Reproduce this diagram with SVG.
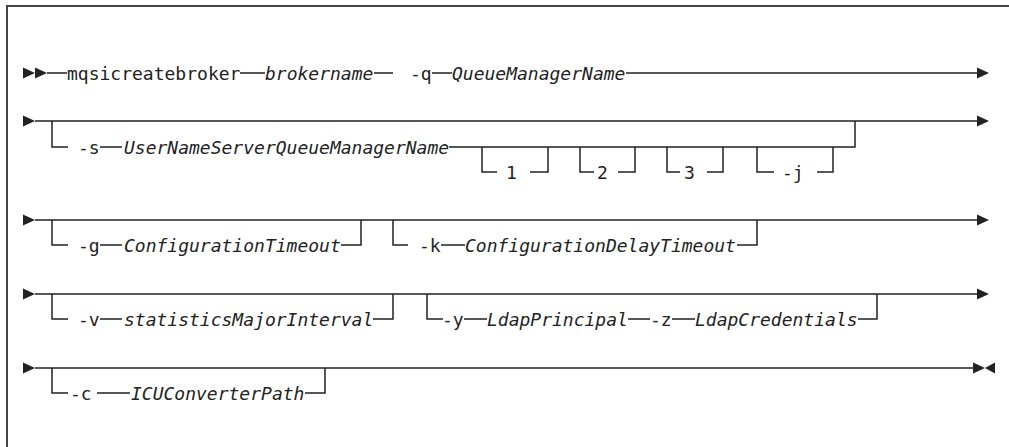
<svg xmlns="http://www.w3.org/2000/svg" width="1009" height="447" viewBox="0 0 1009 447">
<defs>
<style>
.t{font-family:"DejaVu Sans Mono","Liberation Mono",monospace;font-size:18px;fill:#222}
.i{font-style:italic}
.c{fill:none;stroke:#222;stroke-width:1.5}
.f{fill:none;stroke:#444;stroke-width:2}
.a{fill:#222}
</style>
<path id="tr" d="M0,-5.5 L12,0 L0,5.5 Z"/>
<path id="tl" d="M0,0 L10,-5.5 L10,5.5 Z"/>
</defs>
<rect width="1009" height="447" fill="#fff"/>
<path class="f" d="M7,447 V6 H1009"/>

<g id="connectors">
<path class="c" d="M47,73 H67 M240,73 H265 M374,73 H393 M432,73 H452 M626,73 H978"/>
<path class="c" d="M35,121 H978 M52,121 V147 H68 M100,147 H122 M449,147 H855 V121 M482,147 V172 H497 M530,172 H548 V147 M580,147 V172 H594 M618,172 H635 V147 M667,147 V172 H680 M707,172 H723 V147 M757,147 V172 H774 M817,172 H833 V147"/>
<path class="c" d="M35,220 H978 M52,220 V245 H68 M100,245 H122 M341,245 H361 V220 M393,220 V245 H408 M441,245 H465 M737,245 H757 V220"/>
<path class="c" d="M35,294 H978 M52,294 V319 H68 M100,319 H122 M373,319 H393 V294 M427,294 V319 H443 M464,319 H487 M628,319 H650 M672,319 H695 M858,319 H877 V294"/>
<path class="c" d="M35,368 H973 M52,368 V393 H68 M97,393 H130 M305,393 H325 V368"/>
<use href="#tr" class="a" x="23" y="73"/><use href="#tr" class="a" x="35" y="73"/>
<use href="#tr" class="a" x="23" y="121"/><use href="#tr" class="a" x="23" y="220"/>
<use href="#tr" class="a" x="23" y="294"/><use href="#tr" class="a" x="23" y="368"/>
<use href="#tr" class="a" x="977" y="73"/><use href="#tr" class="a" x="977" y="121"/>
<use href="#tr" class="a" x="977" y="220"/><use href="#tr" class="a" x="977" y="294"/>
<use href="#tr" class="a" x="973" y="368"/><use href="#tl" class="a" x="985" y="368"/>
</g>

<g id="row1">
<text class="t" x="67" y="80">mqsicreatebroker</text>
<text class="t i" x="265" y="80">brokername</text>
<text class="t" x="410" y="80">-q</text>
<text class="t i" x="452" y="80">QueueManagerName</text>
</g>
<g id="opt-s">
<text class="t" x="78" y="154">-s</text>
<text class="t i" x="124" y="154">UserNameServerQueueManagerName</text>
</g>
<g id="opt-1"><text class="t" x="506" y="179">1</text></g>
<g id="opt-2"><text class="t" x="597" y="179">2</text></g>
<g id="opt-3"><text class="t" x="684" y="179">3</text></g>
<g id="opt-j"><text class="t" x="782" y="179">-j</text></g>
<g id="opt-g">
<text class="t" x="78" y="252">-g</text>
<text class="t i" x="124" y="252">ConfigurationTimeout</text>
</g>
<g id="opt-k">
<text class="t" x="419" y="252">-k</text>
<text class="t i" x="465" y="252">ConfigurationDelayTimeout</text>
</g>
<g id="opt-v">
<text class="t" x="78" y="326">-v</text>
<text class="t i" x="124" y="326">statisticsMajorInterval</text>
</g>
<g id="opt-yz">
<text class="t" x="442" y="326">-y</text>
<text class="t i" x="487" y="326">LdapPrincipal</text>
<text class="t" x="650" y="326">-z</text>
<text class="t i" x="695" y="326">LdapCredentials</text>
</g>
<g id="opt-c">
<text class="t" x="70" y="400">-c</text>
<text class="t i" x="131" y="400">ICUConverterPath</text>
</g>
</svg>
